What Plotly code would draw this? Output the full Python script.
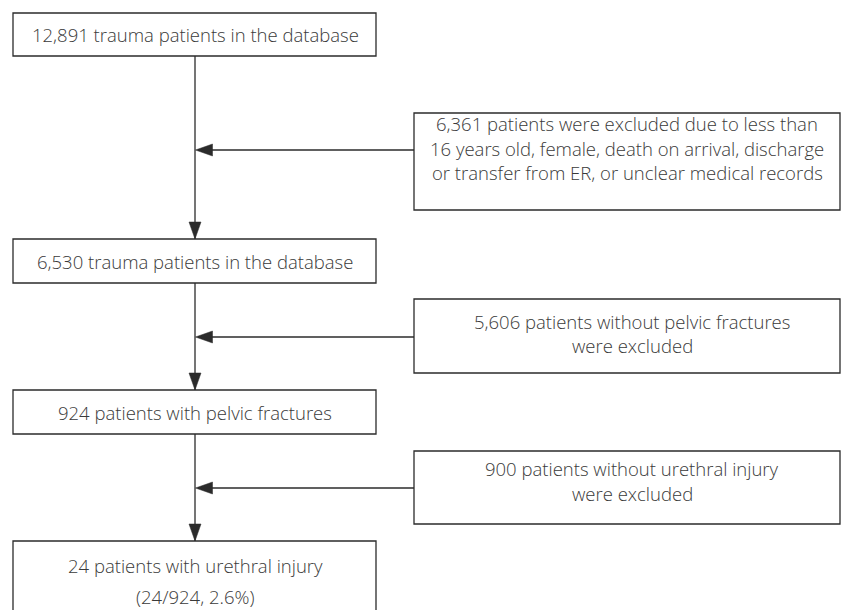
import plotly.graph_objects as go

# ---- content ----
main_labels = [
    ["12,891 trauma patients in the database"],
    ["6,530 trauma patients in the database"],
    ["924 patients with pelvic fractures"],
    ["24 patients with urethral injury", "(24/924, 2.6%)"],
]
excl_labels = [
    ["6,361 patients were excluded due to less than",
     "16 years old, female, death on arrival, discharge",
     "or transfer from ER, or unclear medical records"],
    ["5,606 patients without pelvic fractures", "were excluded"],
    ["900 patients without urethral injury", "were excluded"],
]

# ---- layout geometry (pixels, page coordinates) ----
W, H = 841, 610
MAIN_X0, MAIN_X1 = 13, 376
SPINE_X = 195
main_y = [(13, 56), (239, 283), (390, 434), (541, 640)]
main_text_y = [[34], [261], [412], [565, 596]]
EXCL_X0, EXCL_X1 = 414, 840
excl_y = [(113, 210), (299, 373), (451, 524)]
excl_text_y = [[123, 148, 172], [321, 345], [468, 493]]
excl_text_x = [627, 632, 632]
excl_arrow_y = [150, 337, 488]

LINE = "#2b2b2b"
TEXT = "#3a3a3a"
FONT = "Open Sans"
FS = 18.5
HEAD_L, HEAD_W = 17, 12

shapes = []
annotations = []

def box(x0, y0, x1, y1):
    shapes.append(dict(type="rect", xref="x", yref="y", x0=x0, y0=y0, x1=x1, y1=y1,
                       line=dict(color=LINE, width=1.3), fillcolor="white", layer="above"))

def seg(x0, y0, x1, y1):
    shapes.append(dict(type="line", xref="x", yref="y", x0=x0, y0=y0, x1=x1, y1=y1,
                       line=dict(color=LINE, width=1.3), layer="below"))

def head(tx, ty, direction):
    if direction == "down":
        p = f"M{tx},{ty} L{tx - HEAD_W/2},{ty - HEAD_L} L{tx + HEAD_W/2},{ty - HEAD_L} Z"
    else:  # left
        p = f"M{tx},{ty} L{tx + HEAD_L},{ty - HEAD_W/2} L{tx + HEAD_L},{ty + HEAD_W/2} Z"
    shapes.append(dict(type="path", xref="x", yref="y", path=p,
                       fillcolor=LINE, line=dict(color=LINE, width=0.5), layer="above"))

def text(x, y, s):
    annotations.append(dict(x=x, y=y, xref="x", yref="y", text=s, showarrow=False,
                            xanchor="center", yanchor="middle",
                            font=dict(family=FONT, size=FS, color=TEXT, weight=300)))

# spine connectors
for i in range(len(main_y) - 1):
    seg(SPINE_X, main_y[i][1], SPINE_X, main_y[i + 1][0])
    head(SPINE_X, main_y[i + 1][0], "down")

# exclusion arrows
for i, ay in enumerate(excl_arrow_y):
    seg(EXCL_X0, ay, SPINE_X + HEAD_L, ay)
    head(SPINE_X + 0.5, ay, "left")

# boxes + labels
for (y0, y1), lines, ys in zip(main_y, main_labels, main_text_y):
    box(MAIN_X0, y0, MAIN_X1, y1)
    for s, ty in zip(lines, ys):
        text(SPINE_X, ty, s)

for (y0, y1), lines, ys, tx in zip(excl_y, excl_labels, excl_text_y, excl_text_x):
    box(EXCL_X0, y0, EXCL_X1, y1)
    for s, ty in zip(lines, ys):
        text(tx, ty, s)

fig = go.Figure()
fig.update_layout(
    width=W, height=H,
    margin=dict(l=0, r=0, t=0, b=0),
    paper_bgcolor="white", plot_bgcolor="white",
    xaxis=dict(range=[0, W], visible=False, fixedrange=True),
    yaxis=dict(range=[H, 0], visible=False, fixedrange=True),
    shapes=shapes, annotations=annotations, showlegend=False,
)
fig.write_html("out.html", config={"displayModeBar": False},
               post_script="document.body.style.margin='0';document.body.style.overflow='hidden';")
